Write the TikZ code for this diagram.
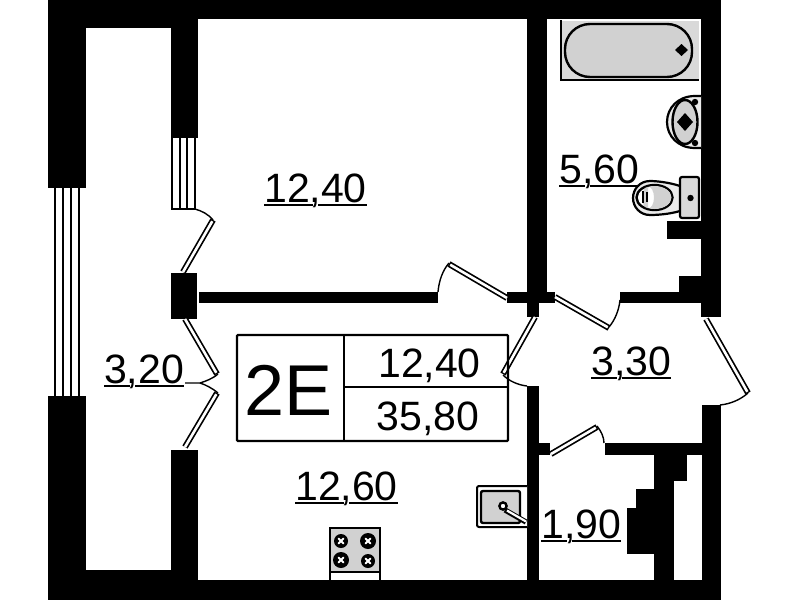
\documentclass[tikz,border=0pt]{standalone}
\usepackage{fontspec}
\setmainfont{Liberation Sans}
\newcommand\lbl[2]{\setbox0\hbox{#1}\setbox2\hbox{#2}\setbox4\hbox{,}%
\rlap{\rule[-4pt]{\dimexpr\wd0+3pt}{2pt}}\rlap{\kern\dimexpr\wd0+\wd4-3pt\rule[-4pt]{\dimexpr\wd2+3pt}{2pt}}#1,#2}
\tikzset{
  wall/.style={fill=black,draw=none},
  leafout/.style={line width=6pt,black},
  leafin/.style={line width=2.6pt,white,shorten >=1.4pt,shorten <=0pt},
  swing/.style={line width=1.4pt,black},
  glass/.style={line width=2.2pt,black},
  fixture/.style={fill=black!18,draw=black,line width=2.4pt},
  tag/.style={font=\fontsize{41}{41}\selectfont,inner sep=0pt,anchor=base west},
  tabrule/.style={line width=2.4pt,black},
}
\newcommand\leaf[2]{\draw[leafout] #1 -- #2; \draw[leafin] #1 -- #2;}
\newcommand\burner[3]{\fill[black] (#1,#2) circle (#3);
  \draw[white,line width=1.8pt,line cap=round] (#1-2.6,#2-2.6) -- (#1+2.6,#2+2.6) (#1-2.6,#2+2.6) -- (#1+2.6,#2-2.6);}
\begin{document}
\begin{tikzpicture}[x=1pt,y=-1pt]
\useasboundingbox (0,0) rectangle (799,600);
\fill[white] (0,0) rectangle (799,600);
% walls
\fill[wall] (48,0) rectangle (721,19);
\fill[wall] (48,0) rectangle (198,28);
\fill[wall] (48,0) rectangle (86,188);
\fill[wall] (171,0) rectangle (198,138);
\fill[wall] (48,396) rectangle (86,600);
\fill[wall] (48,570) rectangle (198,600);
\fill[wall] (171,450) rectangle (198,600);
\fill[wall] (86,580) rectangle (721,600);
\fill[wall] (701,0) rectangle (721,317);
\fill[wall] (702,405) rectangle (721,600);
\fill[wall] (527,0) rectangle (547,303);
\fill[wall] (507,292) rectangle (555,303);
\fill[wall] (527,303) rectangle (539,317);
\fill[wall] (171,273) rectangle (197,319);
\fill[wall] (199,292) rectangle (438,303);
\fill[wall] (527,386) rectangle (539,580);
\fill[wall] (539,443) rectangle (550,455);
\fill[wall] (605,443) rectangle (702,455);
\fill[wall] (620,292) rectangle (701,303);
\fill[wall] (679,276) rectangle (701,292);
\fill[wall] (667,221) rectangle (701,239);
\fill[wall] (654,455) rectangle (674,580);
\fill[wall] (654,455) rectangle (687,481);
\fill[wall] (636,489) rectangle (654,554);
\fill[wall] (627,508) rectangle (654,554);
% windows
\foreach \wx in {55,63,71,79} \draw[glass] (\wx,188) -- (\wx,396);
\foreach \wx in {172,180,187,195} \draw[glass] (\wx,138) -- (\wx,209);
\draw[glass] (171,209) -- (196,209);
% door leaves and swings
\leaf{(183,272)}{(213,220)}
\draw[swing] (195,209) .. controls (202,211) and (208,214) .. (213,220);
\leaf{(185,319)}{(217,374)}
\leaf{(185,447)}{(217,393)}
\draw[swing] (218,374) .. controls (212,379) and (206,381) .. (200,383);
\draw[swing] (218,393) .. controls (212,388) and (206,385) .. (200,383) -- (185,383);
\leaf{(507,298)}{(449,264)}
\draw[swing] (438,292) .. controls (439,280) and (443,270) .. (449,263);
\leaf{(555,297)}{(609,328)}
\draw[swing] (609,327) .. controls (615,320) and (619,310) .. (620,300);
\leaf{(535,317)}{(503,374)}
\draw[swing] (503,375) .. controls (509,381) and (518,385) .. (527,386);
\leaf{(706,319)}{(748,393)}
\draw[swing] (748,393) .. controls (740,400) and (730,404) .. (720,405);
\leaf{(551,454)}{(597,427)}
\draw[swing] (597,426) .. controls (601,431) and (604,437) .. (604,443);
% bath
\fill[black!15] (561,21) rectangle (699,80);
\draw[line width=1.6pt] (561,20) -- (561,80) -- (699,80);
\draw[fixture,rounded corners=25pt] (565,24) rectangle (692,77);
\fill[black] (681.5,44) -- (688,50) -- (681.5,56) -- (675,50) -- cycle;
% bidet
\draw[line width=2.2pt,fill=black!8] (701,96) -- (695,96) .. controls (678,96) and (667,108) .. (667,122) .. controls (667,136) and (678,148) .. (695,148) -- (701,148);
\draw[fixture] (685,122) ellipse (12.5 and 22);
\fill[black] (685,113) -- (693,122) -- (685,131) -- (677,122) -- cycle;
\fill[black] (695,102) circle (3.2) (695,143) circle (3.2);
% toilet
\draw[line width=2.2pt,fill=black!8] (680,186) .. controls (668,182) and (655,181) .. (650,181) .. controls (640,181) and (633,189) .. (633,198) .. controls (633,207) and (640,215) .. (650,215) .. controls (658,215) and (670,214) .. (680,211);
\draw[line width=2.4pt,fill=white] (654.5,197.5) ellipse (18 and 12.5);
\begin{scope}
\clip (654.5,197.5) ellipse (17 and 11.5);
\fill[black!18] (648,197.5) ellipse (6 and 11) (648,186) rectangle (675,209);
\end{scope}
\draw[line width=1.5pt] (643,191) -- (643,203) (647,192) -- (647,202);
\draw[fill=black!15,line width=2.2pt,rounded corners=2pt] (680,177) rectangle (699,218);
\fill[black] (690.5,198) circle (3.2);
% sink
\draw[line width=2pt,fill=white,rounded corners=2pt] (527,486) -- (477,486) -- (477,527) -- (527,527);
\draw[fixture,rounded corners=2pt] (481,491) rectangle (520,523);
\draw[line width=5.2pt] (505,510) -- (526,522);
\draw[line width=2.2pt,white] (507,510.5) -- (526,521.5);
\draw[line width=2.4pt,fill=white] (503,506) circle (3.6);
% stove
\fill[black!18] (329,527) rectangle (381,572);
\draw[line width=1.8pt] (330,580) -- (330,528) -- (380,528) -- (380,580);
\draw[line width=2pt] (329,572) -- (381,572);
\burner{341}{541}{7}
\burner{368}{541}{8}
\burner{341}{560}{8}
\burner{368}{561}{7}
% info table
\draw[tabrule,rounded corners=1pt] (237,335) rectangle (508,441);
\draw[tabrule] (344,335) -- (344,441);
\draw[tabrule] (344,387) -- (508,387);
\node[inner sep=0pt,anchor=base west,font=\fontsize{72}{72}\selectfont] (code) at (244,415) {2E};
\node[tag] (sumA) at (378,377) {12,40};
\node[tag] (sumB) at (376.5,430) {35,80};
% room labels
\node[tag] (roomA) at (264,202) {\lbl{12}{40}};
\node[tag] (roomB) at (559,183) {\lbl{5}{60}};
\node[tag] (roomC) at (591,375) {\lbl{3}{30}};
\node[tag] (roomD) at (104,383) {\lbl{3}{20}};
\node[tag] (roomE) at (295,500) {\lbl{12}{60}};
\node[tag] (roomF) at (541,538) {\lbl{1}{90}};
\end{tikzpicture}
\end{document}
